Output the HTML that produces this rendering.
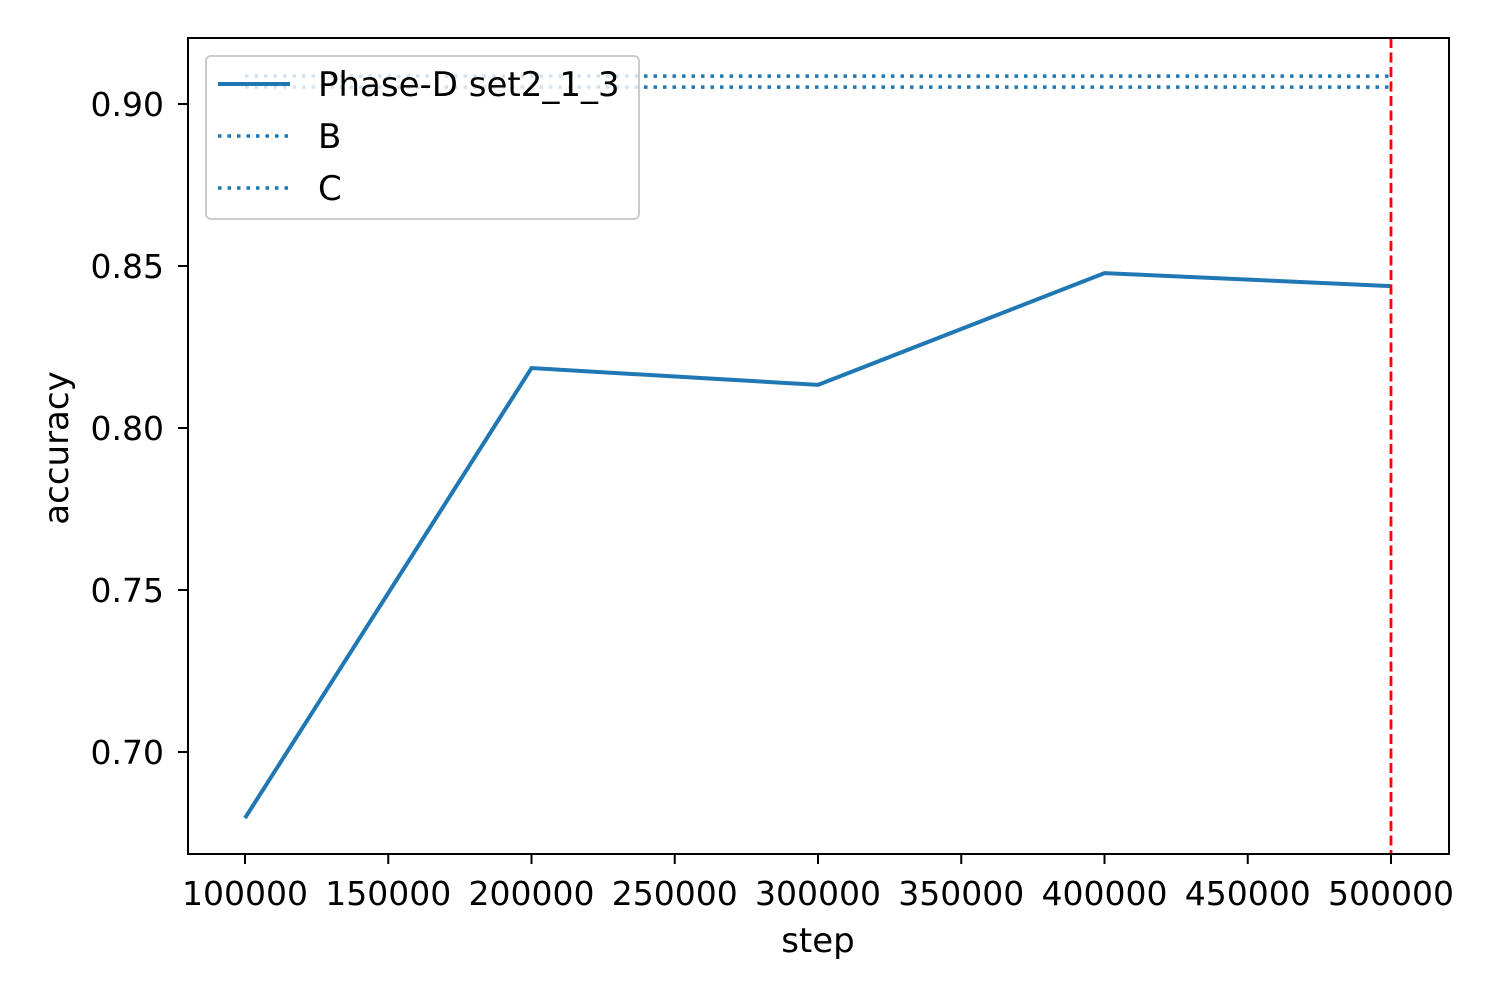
<!DOCTYPE html>
<html><head><meta charset="utf-8"><style>
body{margin:0;background:#fff}
svg{display:block;font-family:"DejaVu Sans","Liberation Sans",sans-serif}
</style></head><body>
<svg id="chart" width="1500" height="1000" xmlns="http://www.w3.org/2000/svg">
<rect width="1500" height="1000" fill="#fff"/>
<g id="plot"></g>
</svg>
<script>
const steps=[100000,200000,300000,400000,500000];
const accuracy=[0.6796,0.8185,0.8133,0.8478,0.8438];
const baselineB=0.9086;
const baselineC=0.9052;
const markerStep=500000;
const xTicks=[100000,150000,200000,250000,300000,350000,400000,450000,500000];
const yTicks=[0.70,0.75,0.80,0.85,0.90];
const L=188,R=1449,T=38,B=854;
const xs=v=>245+(v-100000)*(1146/400000);
const ys=v=>104-(v-0.90)*3240;
const NS='http://www.w3.org/2000/svg';
const g=document.getElementById('plot');
function mk(tag,attrs,parent){const e=document.createElementNS(NS,tag);for(const k in attrs)e.setAttribute(k,attrs[k]);(parent||g).appendChild(e);return e;}
let e=mk('line',{x1:xs(steps[0]),x2:xs(steps[steps.length-1]),y1:ys(baselineB),y2:ys(baselineB),stroke:'#1f77b4','stroke-width':3.5,'stroke-dasharray':'3.5,6'});


e=mk('line',{x1:xs(steps[0]),x2:xs(steps[steps.length-1]),y1:ys(baselineC),y2:ys(baselineC),stroke:'#1f77b4','stroke-width':3.5,'stroke-dasharray':'3.5,6'});


e=mk('polyline',{points:steps.map((s,i)=>xs(s)+','+ys(accuracy[i])).join(' '),fill:'none',stroke:'#1f77b4','stroke-width':4});


e=mk('line',{x1:xs(markerStep),x2:xs(markerStep),y1:T,y2:B,stroke:'#ff0000','stroke-width':2.8,'stroke-dasharray':'10,4.5'});


e=mk('rect',{x:L,y:T,width:R-L,height:B-T,fill:'none',stroke:'#000','stroke-width':2});


xTicks.forEach(v=>{
 let t=mk('line',{x1:xs(v),x2:xs(v),y1:B,y2:B+10,stroke:'#000','stroke-width':2});
 
 
 let l=mk('text',{x:xs(v),y:B+51,'text-anchor':'middle','font-size':33});
 l.textContent=String(v);
 
 
});
yTicks.forEach(v=>{
 let t=mk('line',{x1:L-10,x2:L,y1:ys(v),y2:ys(v),stroke:'#000','stroke-width':2});
 
 
 let l=mk('text',{x:L-24,y:ys(v)+12,'text-anchor':'end','font-size':33});
 l.textContent=v.toFixed(2);
 
 
});
e=mk('text',{x:818,y:952,'text-anchor':'middle','font-size':34});e.textContent='step';


e=mk('text',{x:68,y:448,'text-anchor':'middle','font-size':34,transform:'rotate(-90 68 448)'});e.textContent='accuracy';


const lg=mk('g',{});


mk('rect',{x:206,y:56,width:433,height:163,rx:5,fill:'#fff','fill-opacity':0.8,stroke:'#cccccc','stroke-width':2},lg);
const names=['Phase-D set2_1_3','B','C'];
names.forEach((n,i)=>{
 const y=84+i*52;
 let s=mk('line',{x1:218,x2:290,y1:y,y2:y,stroke:'#1f77b4','stroke-width':i?3.5:4,'stroke-dasharray':i?'3.5,6':'none'},lg);
 
 
 let t=mk('text',{x:318,y:y+12,'font-size':34},lg);t.textContent=n;
 
 
});
</script>
</body></html>
